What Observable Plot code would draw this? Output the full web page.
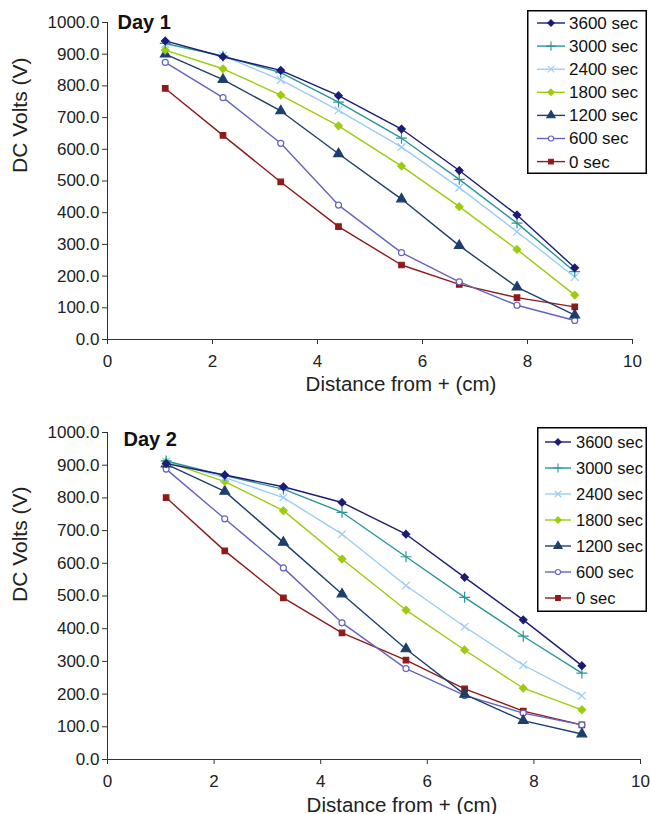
<!DOCTYPE html>
<html><head><meta charset="utf-8">
<script src="https://cdn.jsdelivr.net/npm/d3@7"></script>
<script src="https://cdn.jsdelivr.net/npm/@observablehq/plot@0.6"></script>
<style>
body{margin:0;background:#fff;font-family:"Liberation Sans",Arial,sans-serif;}
.panel{position:relative;width:650px;}
.legend{position:absolute;}
</style></head><body>
<div id="p1" class="panel"></div>
<div id="p2" class="panel"></div>
<script>
// ---- data ----
const distances = [1.1, 2.2, 3.3, 4.4, 5.6, 6.7, 7.8, 8.9];
const seriesNames = ["3600 sec", "3000 sec", "2400 sec", "1800 sec", "1200 sec", "600 sec", "0 sec"];
const xTicks = [0, 2, 4, 6, 8, 10];
const yTicks = [0, 100, 200, 300, 400, 500, 600, 700, 800, 900, 1000];
const panelTitles = ["Day 1", "Day 2"];
const xLabel = "Distance from + (cm)";
const yLabel = "DC Volts (V)";

// Day 1
const d1_3600 = [942, 892, 849, 769, 664, 533, 393, 226];
const d1_3000 = [934, 894, 842, 749, 635, 505, 367, 214];
const d1_2400 = [932, 895, 819, 723, 607, 479, 340, 197];
const d1_1800 = [913, 854, 771, 674, 547, 419, 284, 140];
const d1_1200 = [900, 820, 721, 586, 443, 296, 165, 77];
const d1_600  = [874, 763, 619, 424, 274, 182, 108, 60];
const d1_0    = [792, 644, 497, 356, 235, 174, 132, 103];
// Day 2
const d2_3600 = [905, 870, 834, 786, 689, 557, 427, 287];
const d2_3000 = [913, 868, 827, 756, 620, 496, 377, 264];
const d2_2400 = [911, 862, 801, 689, 532, 406, 289, 195];
const d2_1800 = [911, 850, 761, 613, 457, 335, 218, 152];
const d2_1200 = [903, 820, 664, 506, 338, 199, 119, 78];
const d2_600  = [888, 736, 586, 418, 278, 196, 142, 106];
const d2_0    = [801, 638, 494, 387, 304, 216, 148, 106];

const day1 = [d1_3600, d1_3000, d1_2400, d1_1800, d1_1200, d1_600, d1_0];
const day2 = [d2_3600, d2_3000, d2_2400, d2_1800, d2_1200, d2_600, d2_0];

// ---- styles ----
const colors = ["#1c1c78", "#2a9696", "#9cccf4", "#9ccc0c", "#1d3f6c", "#6464c0", "#8e1a1a"];
const symbols = [d3.symbolDiamond2, d3.symbolPlus, d3.symbolTimes, d3.symbolDiamond2, d3.symbolTriangle, d3.symbolCircle, d3.symbolSquare];
const fills = [true, false, false, true, true, "white", true];
const radii = [3.4, 3.6, 3.6, 3.4, 3.6, 3.0, 3.1];

const font = "Liberation Sans, Arial, sans-serif";

function seriesMarks(values) {
  const marks = [];
  for (let i = values.length - 1; i >= 0; i--) {
    const rows = distances.map((x, j) => ({x, v: values[i][j], s: seriesNames[i]}));
    marks.push(Plot.line(rows, {x: "x", y: "v", stroke: colors[i], strokeWidth: 1.4}));
    const f = fills[i] === true ? colors[i] : (fills[i] || "none");
    marks.push(Plot.dot(rows, {x: "x", y: "v", symbol: symbols[i], r: radii[i], fill: f, stroke: colors[i], strokeWidth: 1.2}));
  }
  return marks;
}

function chart(values, title, o) {
  return Plot.plot({
    width: 650, height: o.height,
    marginLeft: 107, marginRight: o.mr, marginTop: o.mt, marginBottom: o.mb,
    style: {fontFamily: font, fontSize: "17px", color: "#222", background: "#fff"},
    x: {domain: [0, 10]},
    y: {domain: [0, 1000]},
    marks: [
      Plot.axisY(yTicks, {tickFormat: d3.format(".1f"), tickSize: 5, tickPadding: 3, label: null, stroke: "#333", fontSize: 17}),
      Plot.axisX(xTicks, {tickSize: 5, tickPadding: 10, label: null, stroke: "#333", fontSize: 17}),
      Plot.ruleX([0], {stroke: "#333"}),
      Plot.ruleY([0], {stroke: "#333"}),
      ...seriesMarks(values),
      Plot.text([title], {text: d => d, frameAnchor: "top-left", dx: o.tdx, dy: o.tdy, lineAnchor: "top", textAnchor: "start", fontWeight: "bold", fontSize: 20, fill: "#111"}),
      Plot.text([xLabel], {text: d => d, frameAnchor: "bottom", dx: o.xdx, dy: o.xdy, lineAnchor: "bottom", fontSize: 20.5, fill: "#222"}),
      Plot.text([yLabel], {text: d => d, frameAnchor: "left", rotate: -90, dx: -87, dy: o.ydy, lineAnchor: "middle", fontSize: 21, fill: "#222"})
    ]
  });
}

function legend(L) {
  const svg = d3.create("svg").attr("width", L.w).attr("height", L.h)
    .attr("class", "legend")
    .style("left", L.x + "px").style("top", L.y + "px");
  svg.append("rect").attr("x", 0.75).attr("y", 0.75).attr("width", L.w - 1.5).attr("height", L.h - 1.5)
    .attr("fill", "#fff").attr("stroke", "#000").attr("stroke-width", 1.5);
  seriesNames.forEach((name, i) => {
    const cy = L.first + i * L.step;
    const g = svg.append("g");
    g.append("line").attr("x1", L.lx1).attr("x2", L.lx2).attr("y1", cy).attr("y2", cy)
      .attr("stroke", colors[i]).attr("stroke-width", 1.4);
    const f = fills[i] === true ? colors[i] : (fills[i] || "none");
    g.append("path").attr("transform", `translate(${(L.lx1 + L.lx2) / 2},${cy})`)
      .attr("d", d3.symbol(symbols[i], Math.PI * (radii[i] * 0.85) ** 2)())
      .attr("fill", f).attr("stroke", colors[i]).attr("stroke-width", 1.1);
    g.append("text").attr("x", L.tx).attr("y", cy).attr("dy", "0.35em")
      .attr("font-family", font).attr("font-size", L.fs).attr("fill", "#111").text(name);
  });
  return svg.node();
}

const p1 = document.getElementById("p1");
p1.style.height = "400px";
p1.appendChild(chart(day1, panelTitles[0], {height: 400, mr: 18, mt: 22, mb: 61, tdx: 10, tdy: -8, xdx: 31, xdy: 51, ydy: -8}));
p1.appendChild(legend({x: 527, y: 10, w: 120, h: 164, first: 13, step: 23.1, lx1: 10, lx2: 38, tx: 42, fs: 17}));

const p2 = document.getElementById("p2");
p2.style.height = "414px";
p2.appendChild(chart(day2, panelTitles[1], {height: 414, mr: 10, mt: 32, mb: 55, tdx: 16, tdy: -1, xdx: 28, xdy: 52, ydy: 6}));
p2.appendChild(legend({x: 537, y: 27, w: 110, h: 185, first: 15, step: 26, lx1: 8, lx2: 34, tx: 39, fs: 16.5}));
</script>
</body></html>
